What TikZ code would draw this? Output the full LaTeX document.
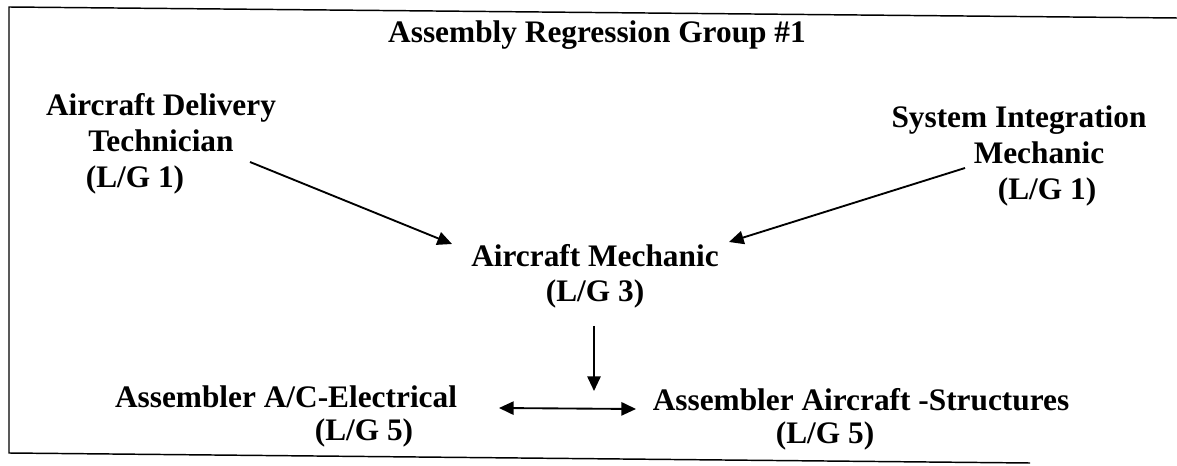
\documentclass[tikz,border=0pt]{standalone}
\usepackage{fontspec}
\setmainfont{Liberation Serif}
\usetikzlibrary{arrows.meta,calc}
\begin{document}
\begin{tikzpicture}[x=0.75pt,y=-0.75pt,
  lbl/.style={font=\bfseries\fontsize{23.5}{27}\selectfont, align=center, inner sep=0pt, anchor=base},
  lbltight/.style={lbl, font=\bfseries\fontsize{23.5}{24.75}\selectfont},
  conn/.style={line width=1.4pt, -{Triangle[length=11pt,width=10pt]}},
  biconn/.style={line width=1.4pt, {Triangle[length=11pt,width=10pt]}-{Triangle[length=11pt,width=10pt]}},
  frameline/.style={line width=1.1pt}]
\useasboundingbox (0,0) rectangle (1177,466);
\draw[frameline] (1177,18) -- (9,7) -- (9,453) -- (1030,463);
\node[lbl] (title) at (597,43) {Assembly Regression Group \#1};
\node[lbl] (adt) at (161,188) {Aircraft Delivery\\Technician\\(L/G 1)\hspace*{39pt}};
\node[lbl] (sim) at (1019,200) {System Integration\\\hspace*{30pt}Mechanic\\\hspace*{42pt}(L/G 1)};
\node[lbl, font=\bfseries\fontsize{23.5}{26.25}\selectfont] (am) at (595,302) {Aircraft Mechanic\\(L/G 3)};
\node[lbltight] (ace) at (286,440) {Assembler A/C-Electrical\\\hspace*{117pt}(L/G 5)};
\node[lbltight] (aas) at (861,443) {Assembler Aircraft -Structures\\(L/G 5)\hspace*{54pt}};
\coordinate (split) at ($(am.base)+(-1,89)$);
\draw[conn] ($(adt.base)+(89,-26)$) -- ($(am.base)+(-143,-58)$);
\draw[conn] ($(sim.base)+(-54,-32)$) -- ($(am.base)+(134,-60)$);
\draw[conn] ($(am.base)+(-1,24)$) -- (split);
\draw[biconn] ($(ace.base)+(213,-32)$) -- ($(aas.base)+(-225,-34)$);
\end{tikzpicture}
\end{document}
